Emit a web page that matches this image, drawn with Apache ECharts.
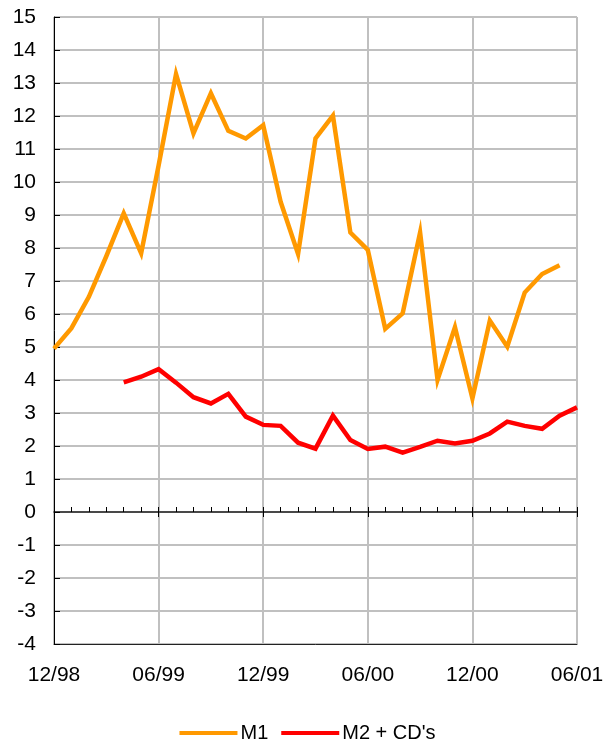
<!DOCTYPE html>
<html>
<head>
<meta charset="utf-8">
<script src="https://cdn.jsdelivr.net/npm/echarts@6/dist/echarts.min.js"></script>
<style>
  html, body { margin: 0; padding: 0; background: #fff; }
  #chart { width: 615px; height: 744px; }
</style>
</head>
<body>
<div id="chart"></div>
<script>
// Monthly observations, 12/98 through 06/01
const months = [
  '12/98', '01/99', '02/99', '03/99', '04/99', '05/99',
  '06/99', '07/99', '08/99', '09/99', '10/99', '11/99',
  '12/99', '01/00', '02/00', '03/00', '04/00', '05/00',
  '06/00', '07/00', '08/00', '09/00', '10/00', '11/00',
  '12/00', '01/01', '02/01', '03/01', '04/01', '05/01',
  '06/01'
];

// Growth rates, percent
const m1 = [
  4.95, 5.57, 6.52, 7.75, 9.05, 7.84,
  10.5, 13.27, 11.47, 12.69, 11.55, 11.32,
  11.72, 9.40, 7.82, 11.32, 12.01, 8.47,
  7.94, 5.55, 6.02, 8.47, 4.0, 5.6,
  3.44, 5.80, 5.01, 6.65, 7.21, 7.48,
  null
];
const m2cd = [
  null, null, null, null, 3.93, 4.10,
  4.33, 3.92, 3.48, 3.29, 3.58, 2.89,
  2.64, 2.61, 2.10, 1.92, 2.92, 2.18,
  1.91, 1.98, 1.80, 1.97, 2.16, 2.08,
  2.16, 2.38, 2.74, 2.61, 2.52, 2.92,
  3.17
];

const seriesNames = ['M1', "M2 + CD's"];
const seriesColors = ['#FF9900', '#FF0000'];

const FONT = 'Liberation Sans, Arial, sans-serif';
const gridBox = { left: 54, right: 38, top: 17, bottom: 100 };
const yRange = { min: -4, max: 15, interval: 1 };

const chart = echarts.init(document.getElementById('chart'), null, { renderer: 'canvas' });

const hiddenY = (gi) => Object.assign({
  type: 'value', gridIndex: gi, show: false, splitLine: { show: false }
}, yRange);

chart.setOption({
  animation: false,
  backgroundColor: '#fff',
  textStyle: { fontFamily: FONT },
  grid: [
    Object.assign({ show: true, borderColor: '#222', borderWidth: 1, containLabel: false }, gridBox),
    Object.assign({ show: false }, gridBox),
    Object.assign({ show: false }, gridBox)
  ],
  legend: {
    bottom: 1,
    left: 'center',
    padding: 0,
    icon: 'rect',
    itemWidth: 58,
    itemHeight: 4,
    itemGap: 13,
    textStyle: { fontFamily: FONT, fontSize: 20, color: '#000', padding: [0, 0, 0, -2] },
    data: seriesNames
  },
  xAxis: [
    {
      // bottom axis: date labels and the six-monthly grid lines
      type: 'category', gridIndex: 0, data: months, boundaryGap: false,
      position: 'bottom',
      axisLine: { onZero: false, lineStyle: { color: '#222', width: 1 } },
      axisTick: { show: false },
      axisLabel: { interval: 5, margin: 21, fontSize: 21, color: '#000', fontFamily: FONT },
      splitLine: { show: true, interval: 5, lineStyle: { color: '#c0c0c0', width: 2 } }
    },
    {
      // zero line with a tick for every month
      type: 'category', gridIndex: 1, data: months, boundaryGap: false,
      axisLine: { onZero: true, lineStyle: { color: '#222', width: 1.5 } },
      axisTick: { show: true, inside: true, interval: 0, length: 5, lineStyle: { color: '#000' } },
      axisLabel: { show: false },
      splitLine: { show: false }
    },
    {
      // longer ticks below the zero line at half-year marks
      type: 'category', gridIndex: 2, data: months, boundaryGap: false,
      axisLine: { onZero: true, show: false },
      axisTick: { show: true, inside: false, interval: 5, length: 5, lineStyle: { color: '#000' } },
      axisLabel: { show: false },
      splitLine: { show: false }
    }
  ],
  yAxis: [
    Object.assign({
      type: 'value', gridIndex: 0,
      axisLine: { show: true, lineStyle: { color: '#000', width: 1 } },
      axisTick: { show: true, inside: true, length: 6, lineStyle: { color: '#000' } },
      axisLabel: { margin: 18, fontSize: 21, color: '#000', fontFamily: FONT },
      splitLine: { show: true, lineStyle: { color: '#c0c0c0', width: 2 } }
    }, yRange),
    hiddenY(1),
    hiddenY(2)
  ],
  series: [
    {
      name: seriesNames[0], type: 'line', xAxisIndex: 0, yAxisIndex: 0,
      data: m1, showSymbol: false, symbol: 'none',
      lineStyle: { color: seriesColors[0], width: 4.5, join: 'miter' },
      itemStyle: { color: seriesColors[0] }, z: 3
    },
    {
      name: seriesNames[1], type: 'line', xAxisIndex: 0, yAxisIndex: 0,
      data: m2cd, showSymbol: false, symbol: 'none',
      lineStyle: { color: seriesColors[1], width: 4.5, join: 'miter' },
      itemStyle: { color: seriesColors[1] }, z: 4
    }
  ]
});
</script>
</body>
</html>
